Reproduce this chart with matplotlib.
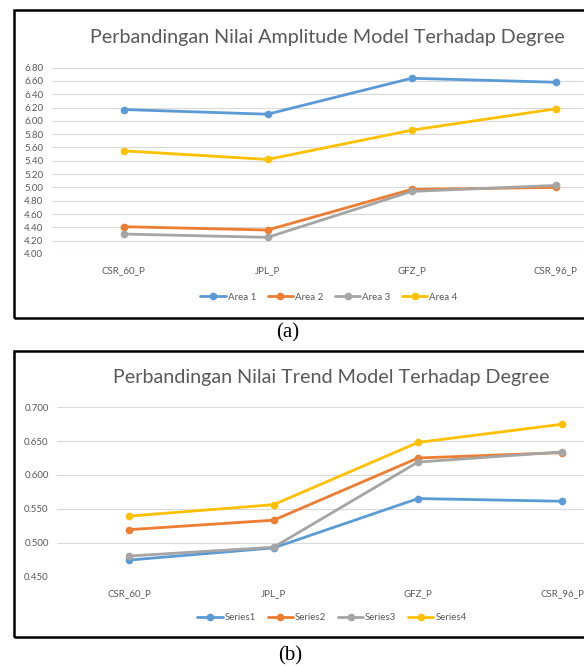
import matplotlib
matplotlib.use("Agg")
import matplotlib.pyplot as plt
from matplotlib.patches import Rectangle

plt.rcParams['font.family'] = ['Lato', 'DejaVu Sans']

# data
categories = ['CSR_60_P', 'JPL_P', 'GFZ_P', 'CSR_96_P']

amp_names = ['Area 1', 'Area 2', 'Area 3', 'Area 4']
area1 = [6.17, 6.10, 6.64, 6.58]
area2 = [4.41, 4.36, 4.97, 5.00]
area3 = [4.30, 4.25, 4.94, 5.03]
area4 = [5.55, 5.42, 5.86, 6.18]

trend_names = ['Series1', 'Series2', 'Series3', 'Series4']
series1 = [0.474, 0.492, 0.565, 0.561]
series2 = [0.519, 0.533, 0.625, 0.633]
series3 = [0.480, 0.493, 0.619, 0.634]
series4 = [0.539, 0.556, 0.648, 0.675]

colors = ['#5B9BD5', '#ED7D31', '#A5A5A5', '#FFC000']
text_gray = '#595959'

W, H = 584, 666
fig = plt.figure(figsize=(W / 100, H / 100), dpi=100)


def px_axes(left, top, right, bottom):
    # pixel box -> figure fraction
    return fig.add_axes([left / W, 1 - bottom / H, (right - left) / W, (bottom - top) / H])


def draw_panel(ax, series, names, ylim, yticks, fmt):
    x = range(len(categories))
    for vals, name, c in zip(series, names, colors):
        ax.plot(x, vals, color=c, lw=2.0, marker='o', ms=4.5, label=name,
                solid_capstyle='round', zorder=3)
    ax.set_xlim(-0.5, len(categories) - 0.5)
    ax.set_ylim(*ylim)
    ax.set_yticks(yticks)
    ax.set_yticklabels([fmt % t for t in yticks])
    ax.set_xticks(list(x))
    ax.set_xticklabels(categories)
    ax.grid(axis='y', color='#D9D9D9', lw=0.8, zorder=0)
    for s in ax.spines.values():
        s.set_visible(False)
    ax.tick_params(length=0, colors=text_gray, labelsize=7)
    ax.tick_params(axis='y', pad=6)
    ax.tick_params(axis='x', pad=9)


# outer frames (right side runs off the picture)
for top, bottom in [(10, 318), (351, 637)]:
    fig.patches.append(Rectangle((14 / W, 1 - bottom / H), 600 / W, (bottom - top) / H,
                                 transform=fig.transFigure, fill=False,
                                 edgecolor='black', lw=1.8))

# (a) amplitude
ax1 = px_axes(51.6, 67.6, 627.5, 254)
amp_ticks = [4.0 + 0.2 * i for i in range(15)]
draw_panel(ax1, [area1, area2, area3, area4], amp_names, (4.0, 6.8), amp_ticks, '%.2f')
fig.text(327 / W, 1 - 37 / H, 'Perbandingan Nilai Amplitude Model Terhadap Degree',
         ha='center', va='center', fontsize=14.2, color=text_gray)
fig.legend(*ax1.get_legend_handles_labels(), loc='center', ncol=4,
           bbox_to_anchor=(329 / W, 1 - 297 / H), frameon=False, fontsize=7,
           labelcolor=text_gray, handlelength=2.6, handletextpad=0.2, columnspacing=1.2)
fig.text(288 / W, 1 - 333 / H, '(a)', ha='center', va='center', fontsize=15,
         family='Liberation Serif')

# (b) trend
ax2 = px_axes(57, 407.3, 634.6, 576.3)
trend_ticks = [0.45, 0.50, 0.55, 0.60, 0.65, 0.70]
draw_panel(ax2, [series1, series2, series3, series4], trend_names, (0.45, 0.70), trend_ticks, '%.3f')
fig.text(331 / W, 1 - 378 / H, 'Perbandingan Nilai Trend Model Terhadap Degree',
         ha='center', va='center', fontsize=14.2, color=text_gray)
fig.legend(*ax2.get_legend_handles_labels(), loc='center', ncol=4,
           bbox_to_anchor=(332 / W, 1 - 618 / H), frameon=False, fontsize=7,
           labelcolor=text_gray, handlelength=2.6, handletextpad=0.2, columnspacing=1.2)
fig.text(290 / W, 1 - 656 / H, '(b)', ha='center', va='center', fontsize=15,
         family='Liberation Serif')

fig.savefig('out.png', dpi=100)
